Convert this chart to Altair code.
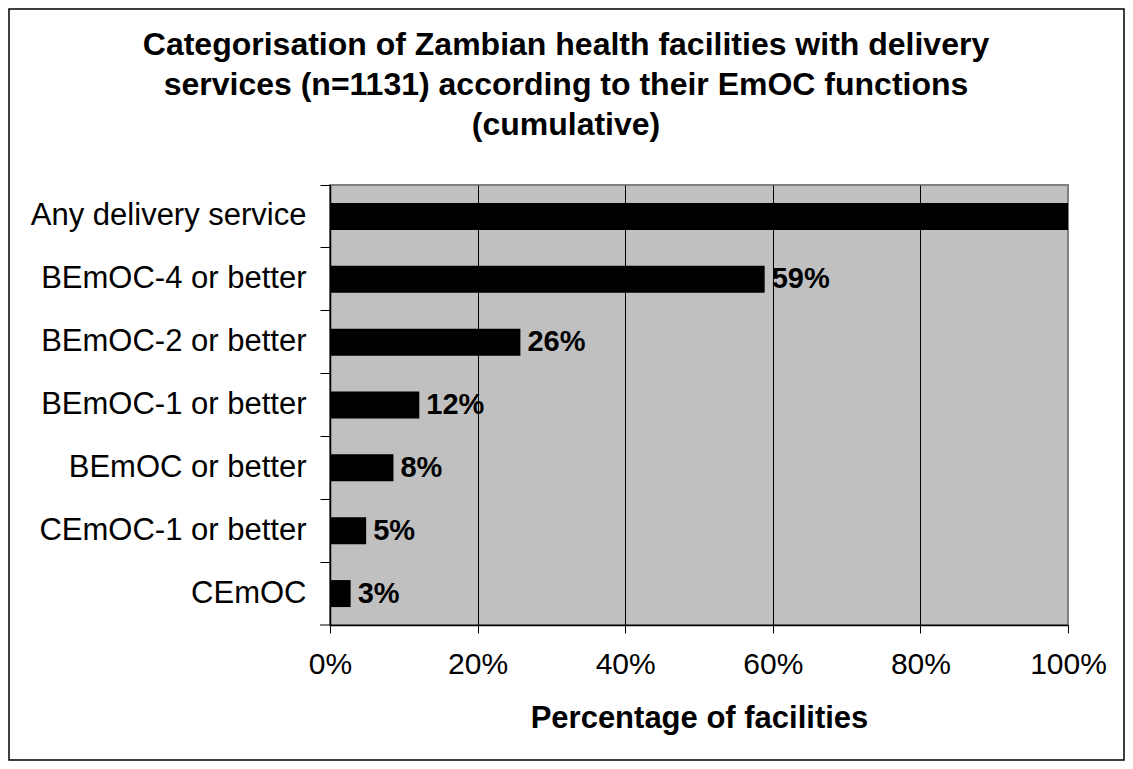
import altair as alt
import pandas as pd

categories = [
    "Any delivery service",
    "BEmOC-4 or better",
    "BEmOC-2 or better",
    "BEmOC-1 or better",
    "BEmOC or better",
    "CEmOC-1 or better",
    "CEmOC",
]
shares = [1.00, 0.589, 0.258, 0.121, 0.086, 0.049, 0.028]
labels = ["", "59%", "26%", "12%", "8%", "5%", "3%"]
x_ticks = [0, 0.2, 0.4, 0.6, 0.8, 1.0]

df = pd.DataFrame({"cat": categories, "share": shares, "label": labels})

FONT = "Liberation Sans, Arial, sans-serif"
W, H = 738, 440
PAD = {"left": 322, "top": 177, "right": 57, "bottom": 136}

y_enc = alt.Y(
    "cat:N",
    sort=categories,
    scale=alt.Scale(paddingInner=0, paddingOuter=0),
    axis=alt.Axis(
        title=None,
        bandPosition=0,
        tickSize=10,
        tickColor="black",
        labelPadding=14,
        labelFontSize=31,
        labelFont=FONT,
        labelColor="black",
        domainColor="black",
        domainWidth=1.5,
        labelLimit=400,
    ),
)
x_enc = alt.X(
    "share:Q",
    scale=alt.Scale(domain=[0, 1], nice=False),
    axis=alt.Axis(
        values=x_ticks,
        format=".0%",
        title="Percentage of facilities",
        titleFontSize=31,
        titleFont=FONT,
        titleFontWeight="bold",
        titleColor="black",
        titlePadding=24,
        tickSize=8,
        tickColor="black",
        labelPadding=16,
        labelFlush=False,
        labelFontSize=30,
        labelFont=FONT,
        labelColor="black",
        domainColor="black",
        domainWidth=1.5,
        grid=True,
        gridColor={"condition": {"test": "datum.value >= 1", "value": "#808080"}, "value": "black"},
        gridWidth=1,
    ),
)

bars = alt.Chart(df).mark_bar(color="black", size=27).encode(x=x_enc, y=y_enc)
text = alt.Chart(df).mark_text(
    align="left", baseline="middle", dx=7, fontSize=29, fontWeight="bold", font=FONT, color="black"
).encode(x="share:Q", y=alt.Y("cat:N", sort=categories), text="label:N")

frame_df = pd.DataFrame({"k": [0]})
frame = alt.Chart(frame_df).mark_rect(fill=None, stroke="black", strokeWidth=1.5).encode(
    x=alt.value(-PAD["left"] + 1),
    x2=alt.value(W + PAD["right"] - 1),
    y=alt.value(-PAD["top"] + 1),
    y2=alt.value(H + PAD["bottom"] - 1),
)
bottom_tick = alt.Chart(frame_df).mark_rule(color="black", strokeWidth=1).encode(
    x=alt.value(-10), x2=alt.value(0), y=alt.value(H)
)

chart = (
    alt.layer(bars, text, bottom_tick, frame)
    .properties(
        width=W,
        height=H,
        padding=PAD,
        autosize=alt.AutoSizeParams(type="none"),
        title=alt.TitleParams(
            [
                "Categorisation of Zambian health facilities with delivery",
                "services (n=1131) according to their EmOC functions",
                "(cumulative)",
            ],
            anchor="middle",
            dx=-133,
            fontSize=32,
            font=FONT,
            fontWeight="bold",
            color="black",
            lineHeight=40,
            offset=-134,
        ),
    )
    .configure(background="white")
    .configure_view(fill="#c0c0c0", stroke="#808080", strokeWidth=2)
)

chart.save("out.html", embed_options={"renderer": "svg", "actions": False})
